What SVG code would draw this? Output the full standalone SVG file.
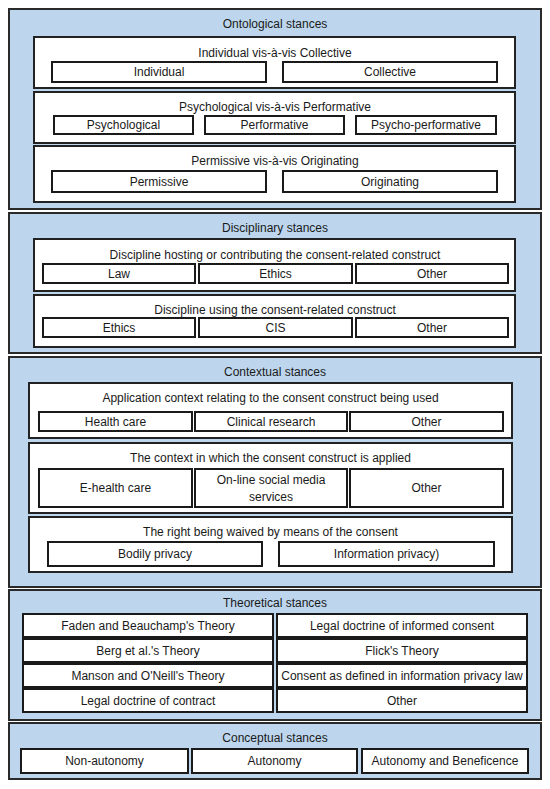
<svg xmlns="http://www.w3.org/2000/svg" width="550" height="789" viewBox="0 0 550 789">
<style>
.sec{fill:#bdd6ed;stroke:#2a2a2a;stroke-width:2}
.grp{fill:#ffffff;stroke:#222;stroke-width:2}
.box{fill:#ffffff;stroke:#1a1a1a;stroke-width:2}
text{font-family:"Liberation Sans",Arial,sans-serif;font-size:12px;fill:#1a1a1a;text-anchor:middle}
</style>
<rect width="550" height="789" fill="#ffffff"/>
<g id="ontological">
<rect class="sec" x="9" y="9" width="532" height="200"/>
<text x="275" y="28">Ontological stances</text>
<g id="ind-col">
<rect class="grp" x="34" y="37" width="481" height="51"/>
<text x="275" y="57">Individual vis-à-vis Collective</text>
<rect class="box" x="52" y="62" width="214" height="20"/><text x="159" y="76">Individual</text>
<rect class="box" x="283" y="62" width="214" height="20"/><text x="390" y="76">Collective</text>
</g>
<g id="psy-perf">
<rect class="grp" x="34" y="92" width="481" height="51"/>
<text x="275" y="111">Psychological vis-à-vis Performative</text>
<rect class="box" x="54" y="116" width="139" height="18"/><text x="123.5" y="129">Psychological</text>
<rect class="box" x="205" y="116" width="139" height="18"/><text x="274.5" y="129">Performative</text>
<rect class="box" x="356" y="116" width="140" height="18"/><text x="426" y="129">Psycho-performative</text>
</g>
<g id="perm-orig">
<rect class="grp" x="34" y="146" width="481" height="56"/>
<text x="275" y="165">Permissive vis-à-vis Originating</text>
<rect class="box" x="52" y="171" width="214" height="21"/><text x="159" y="186">Permissive</text>
<rect class="box" x="283" y="171" width="214" height="21"/><text x="390" y="186">Originating</text>
</g>
</g>
<g id="disciplinary">
<rect class="sec" x="9" y="213" width="532" height="140"/>
<text x="275" y="232">Disciplinary stances</text>
<g id="disc-host">
<rect class="grp" x="34" y="239" width="481" height="52"/>
<text x="275" y="259">Discipline hosting or contributing the consent-related construct</text>
<rect class="box" x="43" y="264" width="152" height="19"/><text x="119" y="278">Law</text>
<rect class="box" x="199" y="264" width="153" height="19"/><text x="275.5" y="278">Ethics</text>
<rect class="box" x="356" y="264" width="152" height="19"/><text x="432" y="278">Other</text>
</g>
<g id="disc-use">
<rect class="grp" x="34" y="295" width="481" height="52"/>
<text x="275" y="314">Discipline using the consent-related construct</text>
<rect class="box" x="43" y="318" width="152" height="19"/><text x="119" y="332">Ethics</text>
<rect class="box" x="199" y="318" width="153" height="19"/><text x="275.5" y="332">CIS</text>
<rect class="box" x="356" y="318" width="152" height="19"/><text x="432" y="332">Other</text>
</g>
</g>
<g id="contextual">
<rect class="sec" x="9" y="357" width="532" height="230"/>
<text x="275" y="376">Contextual stances</text>
<g id="app-ctx">
<rect class="grp" x="29" y="383" width="483" height="55"/>
<text x="270.5" y="402">Application context relating to the consent construct being used</text>
<rect class="box" x="39" y="412" width="153" height="19"/><text x="115.5" y="426">Health care</text>
<rect class="box" x="195" y="412" width="152" height="19"/><text x="271" y="426">Clinical research</text>
<rect class="box" x="350" y="412" width="153" height="19"/><text x="426.5" y="426">Other</text>
</g>
<g id="applied-ctx">
<rect class="grp" x="29" y="443" width="483" height="70"/>
<text x="270.5" y="462">The context in which the consent construct is applied</text>
<rect class="box" x="39" y="469" width="153" height="38"/><text x="115.5" y="492">E-health care</text>
<rect class="box" x="195" y="469" width="152" height="38"/><text x="271" y="484">On-line social media</text><text x="271" y="501">services</text>
<rect class="box" x="350" y="469" width="153" height="38"/><text x="426.5" y="492">Other</text>
</g>
<g id="right-waived">
<rect class="grp" x="29" y="517" width="483" height="55"/>
<text x="270.5" y="536">The right being waived by means of the consent</text>
<rect class="box" x="48" y="542" width="214" height="24"/><text x="155" y="558">Bodily privacy</text>
<rect class="box" x="279" y="542" width="215" height="24"/><text x="386.5" y="558">Information privacy)</text>
</g>
</g>
<g id="theoretical">
<rect class="sec" x="9" y="590" width="532" height="130"/>
<text x="275" y="607">Theoretical stances</text>
<rect class="box" x="23" y="614" width="250" height="23"/><text x="148" y="630">Faden and Beauchamp's Theory</text>
<rect class="box" x="277" y="614" width="250" height="23"/><text x="402" y="630">Legal doctrine of informed consent</text>
<rect class="box" x="23" y="639" width="250" height="23"/><text x="148" y="655">Berg et al.'s Theory</text>
<rect class="box" x="277" y="639" width="250" height="23"/><text x="402" y="655">Flick's Theory</text>
<rect class="box" x="23" y="664" width="250" height="23"/><text x="148" y="680">Manson and O'Neill's Theory</text>
<rect class="box" x="277" y="664" width="250" height="23"/><text x="402" y="680">Consent as defined in information privacy law</text>
<rect class="box" x="23" y="689" width="250" height="23"/><text x="148" y="705">Legal doctrine of contract</text>
<rect class="box" x="277" y="689" width="250" height="23"/><text x="402" y="705">Other</text>
</g>
<g id="conceptual">
<rect class="sec" x="9" y="723" width="532" height="56"/>
<text x="275" y="742">Conceptual stances</text>
<rect class="box" x="21" y="749" width="167" height="24"/><text x="104.5" y="765">Non-autonomy</text>
<rect class="box" x="192" y="749" width="165" height="24"/><text x="274.5" y="765">Autonomy</text>
<rect class="box" x="362" y="749" width="166" height="24"/><text x="445" y="765">Autonomy and Beneficence</text>
</g>
<g id="connectors"/>
</svg>
